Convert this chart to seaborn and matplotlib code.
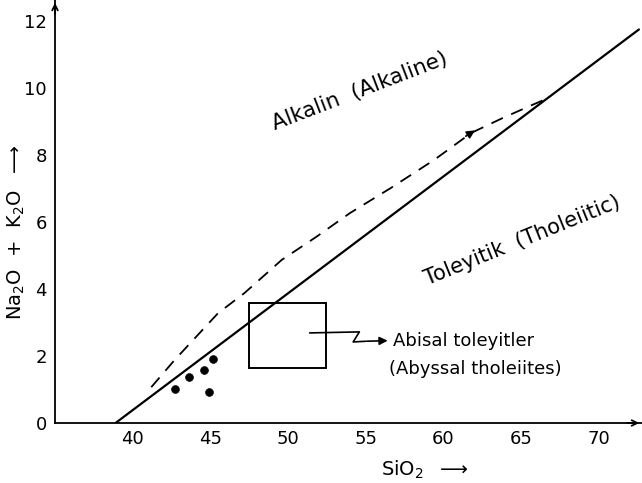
import matplotlib
matplotlib.use("Agg")
import matplotlib.pyplot as plt
import matplotlib.patches as patches
import seaborn as sns
import pandas as pd

sns.set_style("white")
plt.rcParams['font.family'] = ['DejaVu Sans']
plt.rcParams['text.color'] = 'black'
plt.rcParams['axes.labelcolor'] = 'black'

# samples (SiO2, Na2O+K2O)
sample_sio2 = [42.7, 43.6, 44.6, 45.2, 44.9]
sample_alk = [1.01, 1.37, 1.58, 1.91, 0.93]

# Macdonald & Katsura boundary (solid)
boundary_sio2 = [38.9, 72.6]
boundary_alk = [0.0, 11.75]

# dashed boundary
dash_sio2 = [41.2, 42.7, 45.5, 47.2, 49.6, 51.8, 54.0, 56.6, 59.4, 61.8, 63.8, 65.7, 66.9]
dash_alk = [1.07, 1.88, 3.28, 3.88, 4.87, 5.55, 6.27, 7.01, 7.85, 8.66, 9.10, 9.49, 9.73]

# abyssal tholeiite field
box_sio2 = (47.5, 52.45)
box_alk = (1.64, 3.58)

x_ticks = [40, 45, 50, 55, 60, 65, 70]
y_ticks = [0, 2, 4, 6, 8, 10, 12]

samples = pd.DataFrame({"SiO2": sample_sio2, "alk": sample_alk})
solid = pd.DataFrame({"SiO2": boundary_sio2, "alk": boundary_alk})
dashed = pd.DataFrame({"SiO2": dash_sio2, "alk": dash_alk})

fig = plt.figure(figsize=(6.42, 4.83), dpi=100)
ax = fig.add_axes([55 / 642, 60 / 483, 587 / 642, 423 / 483])

sns.lineplot(data=solid, x="SiO2", y="alk", color="black", lw=1.6, ax=ax)
sns.lineplot(data=dashed, x="SiO2", y="alk", color="black", lw=1.3, ax=ax,
             sort=False).lines[-1].set_dashes((7, 5))
sns.scatterplot(data=samples, x="SiO2", y="alk", color="black", s=32, ax=ax,
                edgecolor="black", zorder=5)

# arrowhead on the dashed line
ax.annotate("", xy=(62.2, 8.78), xytext=(61.3, 8.52),
            arrowprops=dict(arrowstyle="-|>", color="black", lw=1.2, mutation_scale=12))

# rectangle + squiggly arrow
ax.add_patch(patches.Rectangle((box_sio2[0], box_alk[0]), box_sio2[1] - box_sio2[0],
                               box_alk[1] - box_alk[0], fill=False, lw=1.4, ec="black"))
ax.plot([51.4, 54.6, 54.2, 55.0], [2.69, 2.72, 2.42, 2.44], color="black", lw=1.2)
ax.annotate("", xy=(56.6, 2.46), xytext=(54.9, 2.44),
            arrowprops=dict(arrowstyle="-|>", color="black", lw=1.2, mutation_scale=12))

ax.text(56.75, 2.45, "Abisal toleyitler", fontsize=13, ha="left", va="center")
ax.text(56.5, 1.62, "(Abyssal tholeiites)", fontsize=13, ha="left", va="center")
ax.text(54.6, 9.9, "Alkalin  (Alkaline)", fontsize=15.5, rotation=21,
        ha="center", va="center", rotation_mode="anchor")
ax.text(65.1, 5.45, "Toleyitik  (Tholeiitic)", fontsize=15, rotation=22,
        ha="center", va="center", rotation_mode="anchor")

ax.set_xlim(35, 72.8)
ax.set_ylim(0, 12.63)
ax.set_xticks(x_ticks)
ax.set_yticks(y_ticks)
ax.tick_params(direction="inout", length=6, width=1, labelsize=13, colors="black")
ax.tick_params(axis="y", pad=3)
ax.tick_params(axis="x", pad=2)

for s in ["top", "right"]:
    ax.spines[s].set_visible(False)
for s in ["left", "bottom"]:
    ax.spines[s].set_color("black")
    ax.spines[s].set_linewidth(1.3)

# axis arrowheads
ax.annotate("", xy=(1.0, 0), xytext=(0.97, 0), xycoords="axes fraction",
            arrowprops=dict(arrowstyle="->", color="black", lw=1.3))
ax.annotate("", xy=(0, 1.0), xytext=(0, 0.96), xycoords="axes fraction",
            arrowprops=dict(arrowstyle="->", color="black", lw=1.3))

ax.set_xlabel(r"SiO$_2$  $\longrightarrow$", fontsize=14)
ax.set_ylabel(r"Na$_2$O  +  K$_2$O  $\longrightarrow$", fontsize=14)
ax.xaxis.set_label_coords(0.63, -0.085)
ax.yaxis.set_label_coords(-0.047, 0.45)

fig.savefig("out.png", dpi=100)
